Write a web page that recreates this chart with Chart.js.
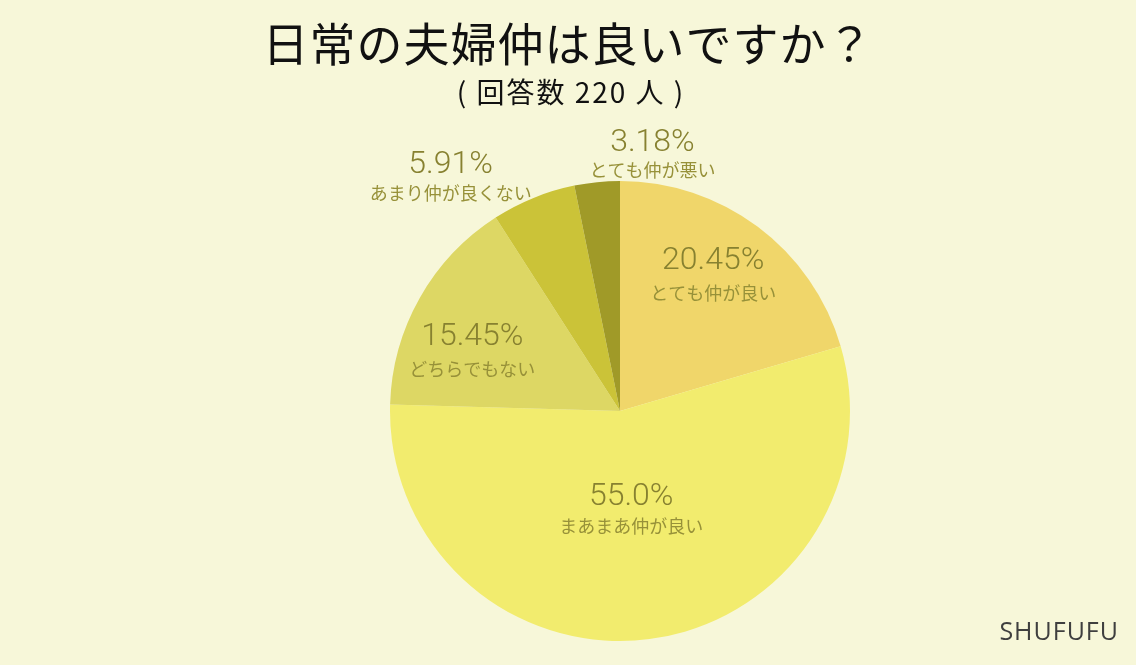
<!DOCTYPE html>
<html>
<head>
<meta charset="utf-8">
<script src="https://cdn.jsdelivr.net/npm/chart.js@4/dist/chart.umd.min.js"></script>
<style>
  html, body { margin: 0; padding: 0; background: #f7f7d9; }
  #wrap { width: 1136px; height: 665px; position: relative; }
</style>
</head>
<body>
<div id="wrap"><canvas id="myChart"></canvas></div>
<script>
// data
const labels = ['とても仲が良い', 'まあまあ仲が良い', 'どちらでもない', 'あまり仲が良くない', 'とても仲が悪い'];
const values = [20.45, 55.0, 15.45, 5.91, 3.18];
const valueText = ['20.45%', '55.0%', '15.45%', '5.91%', '3.18%'];
const colors = ['#f0d66a', '#f2ec6e', '#ddd764', '#cbc338', '#a09a28'];

// where each label sits: fraction of radius and angle shift (deg) from slice middle
const labelRadius = [0.71, 0.44, 0.69, 1.25, 1.115];
const labelShift = [-2, 1, -8, -14, 13];
const labelGap = [16, 15, 16, 14, 14];

const titleText = '日常の夫婦仲は良いですか？';
const subText = '( 回答数 220 人 )';

const textPlugin = {
  id: 'textPlugin',
  afterDraw(chart) {
    const c = chart.ctx;
    c.save();
    c.textAlign = 'center';
    c.textBaseline = 'middle';
    c.fillStyle = '#111';
    c.font = '400 46px "Noto Sans CJK JP"';
    c.letterSpacing = '1px';
    c.fillText(titleText, 568, 44);
    c.font = '400 28px "Noto Sans CJK JP"';
    c.letterSpacing = '2px';
    c.fillText(subText, 571, 92);
    c.letterSpacing = '0px';

    const arcs = chart.getDatasetMeta(0).data;
    arcs.forEach((arc, i) => {
      const p = arc.getProps(['x', 'y', 'startAngle', 'endAngle', 'outerRadius'], true);
      const mid = (p.startAngle + p.endAngle) / 2 + labelShift[i] * Math.PI / 180;
      const r = p.outerRadius * labelRadius[i];
      const x = p.x + Math.cos(mid) * r;
      const y = p.y + Math.sin(mid) * r;
      c.fillStyle = '#878130';
      c.font = '300 32px Roboto';
      c.fillText(valueText[i], x, y - labelGap[i]);
      c.fillStyle = '#979139';
      c.font = '400 18px "Noto Sans CJK JP"';
      c.fillText(labels[i], x, y + labelGap[i]);
    });

    c.textAlign = 'right';
    c.fillStyle = '#3f3f3f';
    c.font = '400 25px "Open Sans"';
    c.letterSpacing = '1px';
    c.fillText('SHUFUFU', 1119, 633);
    c.restore();
  }
};

const ctx = document.getElementById('myChart').getContext('2d');
const myChart = new Chart(ctx, {
  type: 'pie',
  data: {
    labels: labels,
    datasets: [{
      data: values,
      backgroundColor: colors,
      borderWidth: 0,
    }],
  },
  options: {
    responsive: true,
    maintainAspectRatio: false,
    animation: false,
    layout: { padding: { top: 181, bottom: 24, left: 390, right: 286 } },
    plugins: {
      legend: { display: false },
      tooltip: { enabled: false },
    },
  },
  plugins: [textPlugin],
});
</script>
</body>
</html>
